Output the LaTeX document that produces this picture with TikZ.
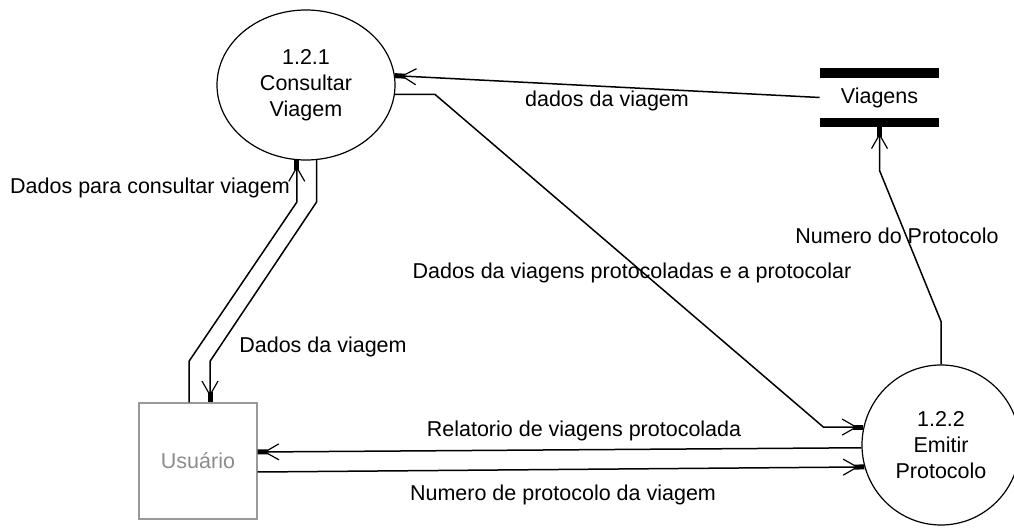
\documentclass[tikz,border=0pt]{standalone}
\usepackage{fontspec}
\setmainfont{Liberation Sans}
\usepackage{tikz}
\usetikzlibrary{arrows.meta, shapes.geometric}

\begin{document}
\begin{tikzpicture}[x=0.5pt, y=-0.5pt,
    font=\fontsize{10.75}{13}\selectfont,
    proc/.style = {draw, ellipse, line width=0.6pt, inner sep=0pt, align=center},
    store/.style = {minimum width=59.5pt, minimum height=29.5pt, inner sep=0pt},
    ent/.style = {draw=gray!80, line width=0.7pt, text=gray!90, minimum width=59pt, minimum height=58pt, inner sep=0pt},
    flow/.style = {line width=0.75pt, -{Straight Barb[length=7pt,width=8pt,line width=0.6pt,sep=-2pt] Rectangle[length=5pt,width=2.5pt]}}]
    \useasboundingbox (0,0) rectangle (1014,529);
    \node[proc, minimum width=89pt, minimum height=75pt] (c1) at (306,85) {1.2.1\\Consultar\\Viagem};
    \node[proc, minimum width=79pt, minimum height=80pt] (c2) at (941,445) {1.2.2\\Emitir\\Protocolo};
    \node[store] (viagens) at (879.5,97.5) {Viagens};
    \node[ent] (usr) at (198,461) {Usuário};
    \fill (viagens.north west) rectangle ([yshift=-5pt]viagens.north east);
    \fill ([yshift=4.5pt]viagens.south west) rectangle (viagens.south east);
    \draw[flow] (viagens.west) -- (c1.6.5);
    \draw[flow] (c1.-6) -- ++(40,0) -- ([xshift=-20pt]c2.167) -- (c2.167);
    \draw[flow] (c2.north) -- ++(0,-43) -- ([yshift=-21.5pt]viagens.south) -- (viagens.south);
    \draw[flow] (c2.182) -- ([yshift=4.5pt]usr.east);
    \draw[flow] ([yshift=-5.5pt]usr.east) -- (c2.196);
    \draw[flow] ([xshift=-4.5pt]usr.north) -- ++(0,-41) -- ([yshift=-21pt]c1.263) -- (c1.263);
    \draw[flow] (c1.278) -- ++(0,42) -- ([xshift=6pt,yshift=20.5pt]usr.north) -- ([xshift=6pt]usr.north);
    \node (l1) at (607,101) {dados da viagem};
    \node (l2) at (632,273) {Dados da viagens protocoladas e a protocolar};
    \node (l3) at (897,236) {Numero do Protocolo};
    \node (l4) at (150,188) {Dados para consultar viagem};
    \node (l5) at (323,347) {Dados da viagem};
    \node (l6) at (584,431) {Relatorio de viagens protocolada};
    \node (l7) at (563,495) {Numero de protocolo da viagem};
\end{tikzpicture}
\end{document}
